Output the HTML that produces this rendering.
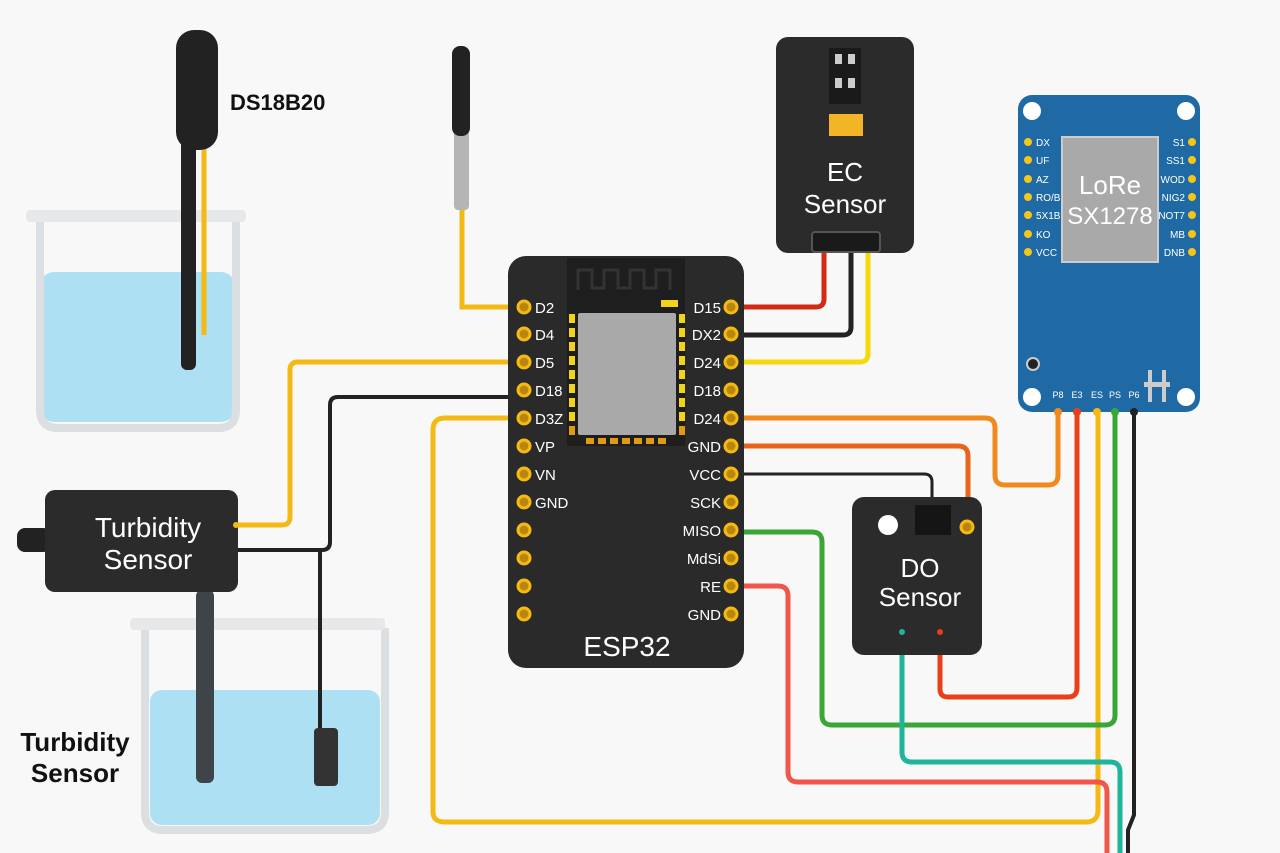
<!DOCTYPE html>
<html><head><meta charset="utf-8"><style>
html,body{margin:0;padding:0;background:#f8f8f8;}
svg{display:block;font-family:"Liberation Sans",sans-serif;}
</style></head><body>
<svg width="1280" height="853" viewBox="0 0 1280 853" xmlns="http://www.w3.org/2000/svg">
<rect width="1280" height="853" fill="#f8f8f8"/>

<!-- Beaker 1 -->
<rect x="40" y="272" width="195" height="150" rx="14" fill="#aee0f4"/>
<path d="M40 222 V410 Q40 428 58 428 H218 Q236 428 236 410 V222" fill="none" stroke="#dcdfe2" stroke-width="8"/>
<rect x="26" y="210" width="220" height="12" rx="4" fill="#e6e8ea"/>
<!-- DS18B20 probe -->
<rect x="181" y="140" width="15" height="230" rx="6" fill="#222"/>
<path d="M204 140 V335" stroke="#f5b914" stroke-width="5" fill="none"/>
<rect x="176" y="30" width="42" height="120" rx="18" fill="#222"/>
<text x="230" y="110" font-size="22" font-weight="bold" fill="#111">DS18B20</text>

<!-- second probe -->
<path d="M462 205 V307 H524" stroke="#f5b914" stroke-width="5" fill="none"/>
<rect x="454" y="130" width="15" height="80" rx="4" fill="#b5b5b5"/>
<rect x="452" y="46" width="18" height="90" rx="8" fill="#222"/>

<!-- Beaker 2 -->
<rect x="150" y="690" width="230" height="135" rx="12" fill="#aee0f4"/>
<path d="M145 628 V812 Q145 830 163 830 H367 Q385 830 385 812 V628" fill="none" stroke="#dcdfe2" stroke-width="8"/>
<rect x="130" y="618" width="255" height="12" rx="4" fill="#e6e8ea"/>
<rect x="196" y="590" width="18" height="193" rx="6" fill="#3f4448"/>
<path d="M320 550 V730" stroke="#222" stroke-width="4" fill="none"/>
<rect x="314" y="728" width="24" height="58" rx="4" fill="#333"/>

<!-- wires left -->
<path d="M524 362 H298 Q290 362 290 370 V517 Q290 525 282 525 H238" stroke="#f5b914" stroke-width="5" fill="none"/>
<path d="M524 397 H338 Q330 397 330 405 V542 Q330 550 322 550 H238" stroke="#222" stroke-width="4" fill="none"/>
<path d="M524 418 H445 Q433 418 433 430 V812 Q433 822 445 822 H1086 Q1098 822 1098 810 V412" stroke="#f5b914" stroke-width="5" fill="none"/>

<!-- Turbidity sensor box -->
<rect x="17" y="528" width="34" height="24" rx="8" fill="#222"/>
<rect x="45" y="490" width="193" height="102" rx="10" fill="#2b2b2b"/>
<text x="148" y="537" font-size="28" fill="#fff" text-anchor="middle">Turbidity</text>
<text x="148" y="569" font-size="28" fill="#fff" text-anchor="middle">Sensor</text>
<circle cx="236" cy="525" r="3" fill="#f5b914"/>
<text x="75" y="751" font-size="26" font-weight="bold" fill="#111" text-anchor="middle">Turbidity</text>
<text x="75" y="782" font-size="26" font-weight="bold" fill="#111" text-anchor="middle">Sensor</text>

<!-- right wires -->
<path d="M731 307 H816 Q824 307 824 299 V252" stroke="#d42a12" stroke-width="5" fill="none"/>
<path d="M731 335 H843 Q851 335 851 327 V252" stroke="#222" stroke-width="5" fill="none"/>
<path d="M731 362 H860 Q868 362 868 354 V252" stroke="#f5d90c" stroke-width="5" fill="none"/>
<path d="M731 418 H985 Q995 418 995 428 V475 Q995 485 1005 485 H1048 Q1058 485 1058 475 V412" stroke="#f08a1c" stroke-width="5" fill="none"/>
<path d="M731 446 H958 Q968 446 968 456 V528" stroke="#e8641a" stroke-width="5" fill="none"/>
<path d="M731 474 H924 Q932 474 932 482 V508" stroke="#222" stroke-width="3" fill="none"/>
<path d="M731 532 H812 Q822 532 822 542 V715 Q822 725 832 725 H1105 Q1115 725 1115 715 V412" stroke="#3aa635" stroke-width="5" fill="none"/>
<path d="M731 586 H778 Q788 586 788 596 V772 Q788 782 798 782 H1097 Q1107 782 1107 792 V853" stroke="#f0564a" stroke-width="5" fill="none"/>
<path d="M1077 412 V688 Q1077 697 1068 697 H948 Q940 697 940 689 V632" stroke="#e8401a" stroke-width="5" fill="none"/>
<path d="M902 632 V752 Q902 762 912 762 H1110 Q1120 762 1120 772 V853" stroke="#1eb59a" stroke-width="5" fill="none"/>
<path d="M1134 412 V815 L1128 830 V853" stroke="#222" stroke-width="4" fill="none"/>

<!-- ESP32 -->
<rect x="508" y="256" width="236" height="412" rx="18" fill="#2a2a2a"/>
<rect x="567" y="258" width="118" height="188" fill="#1e1e1e"/>
<path d="M578 290 V270 H592 V288 H604 V270 H618 V288 H630 V270 H644 V288 H656 V270 H670 V290" stroke="#333" stroke-width="3" fill="none"/>
<rect x="661" y="300" width="17" height="7" fill="#f2d21a"/>
<rect x="578" y="313" width="98" height="122" rx="2" fill="#a9a9a9"/>
<g fill="#f2d21a">
<rect x="569" y="314" width="6" height="9"/><rect x="569" y="328" width="6" height="9"/><rect x="569" y="342" width="6" height="9"/><rect x="569" y="356" width="6" height="9"/><rect x="569" y="370" width="6" height="9"/><rect x="569" y="384" width="6" height="9"/><rect x="569" y="398" width="6" height="9"/><rect x="569" y="412" width="6" height="9"/>
<rect x="679" y="314" width="6" height="9"/><rect x="679" y="328" width="6" height="9"/><rect x="679" y="342" width="6" height="9"/><rect x="679" y="356" width="6" height="9"/><rect x="679" y="370" width="6" height="9"/><rect x="679" y="384" width="6" height="9"/><rect x="679" y="398" width="6" height="9"/><rect x="679" y="412" width="6" height="9"/>
</g>
<g fill="#e09a12"><rect x="569" y="426" width="6" height="9"/><rect x="679" y="426" width="6" height="9"/>
<rect x="586" y="438" width="8" height="6"/><rect x="598" y="438" width="8" height="6"/><rect x="610" y="438" width="8" height="6"/><rect x="622" y="438" width="8" height="6"/><rect x="634" y="438" width="8" height="6"/><rect x="646" y="438" width="8" height="6"/><rect x="658" y="438" width="8" height="6"/></g>
<g fill="#b8860b" stroke="#f5b914" stroke-width="3">
<circle cx="524" cy="307" r="6"/><circle cx="524" cy="334" r="6"/><circle cx="524" cy="362" r="6"/><circle cx="524" cy="390" r="6"/><circle cx="524" cy="418" r="6"/><circle cx="524" cy="446" r="6"/><circle cx="524" cy="474" r="6"/><circle cx="524" cy="502" r="6"/><circle cx="524" cy="530" r="6"/><circle cx="524" cy="558" r="6"/><circle cx="524" cy="586" r="6"/><circle cx="524" cy="614" r="6"/>
<circle cx="731" cy="307" r="6"/><circle cx="731" cy="334" r="6"/><circle cx="731" cy="362" r="6"/><circle cx="731" cy="390" r="6"/><circle cx="731" cy="418" r="6"/><circle cx="731" cy="446" r="6"/><circle cx="731" cy="474" r="6"/><circle cx="731" cy="502" r="6"/><circle cx="731" cy="530" r="6"/><circle cx="731" cy="558" r="6"/><circle cx="731" cy="586" r="6"/><circle cx="731" cy="614" r="6"/>
</g>
<g fill="#fff" font-size="15">
<text x="535" y="313">D2</text><text x="535" y="340">D4</text><text x="535" y="368">D5</text><text x="535" y="396">D18</text><text x="535" y="424">D3Z</text><text x="535" y="452">VP</text><text x="535" y="480">VN</text><text x="535" y="508">GND</text>
</g>
<g fill="#fff" font-size="15" text-anchor="end">
<text x="721" y="313">D15</text><text x="721" y="340">DX2</text><text x="721" y="368">D24</text><text x="721" y="396">D18</text><text x="721" y="424">D24</text><text x="721" y="452">GND</text><text x="721" y="480">VCC</text><text x="721" y="508">SCK</text><text x="721" y="536">MISO</text><text x="721" y="564">MdSi</text><text x="721" y="592">RE</text><text x="721" y="620">GND</text>
</g>
<text x="627" y="656" font-size="28" fill="#fff" text-anchor="middle">ESP32</text>

<!-- EC sensor -->
<rect x="776" y="37" width="138" height="216" rx="12" fill="#2b2b2b"/>
<rect x="829" y="48" width="32" height="56" fill="#1a1a1a"/>
<rect x="835" y="54" width="7" height="10" fill="#ccc"/><rect x="848" y="54" width="7" height="10" fill="#ccc"/>
<rect x="835" y="78" width="7" height="10" fill="#ccc"/><rect x="848" y="78" width="7" height="10" fill="#ccc"/>
<rect x="829" y="114" width="34" height="22" fill="#f2b526"/>
<text x="845" y="181" font-size="26" fill="#fff" text-anchor="middle">EC</text>
<text x="845" y="213" font-size="26" fill="#fff" text-anchor="middle">Sensor</text>
<rect x="812" y="232" width="68" height="20" rx="3" fill="#1a1a1a" stroke="#555" stroke-width="2"/>

<!-- DO sensor -->
<rect x="852" y="497" width="130" height="158" rx="12" fill="#2b2b2b"/>
<circle cx="888" cy="525" r="10" fill="#fff"/>
<rect x="915" y="505" width="36" height="30" fill="#151515"/>
<circle cx="967" cy="527" r="6" fill="#b8860b" stroke="#f5b914" stroke-width="3"/>
<text x="920" y="577" font-size="26" fill="#fff" text-anchor="middle">DO</text>
<text x="920" y="606" font-size="26" fill="#fff" text-anchor="middle">Sensor</text>
<circle cx="902" cy="632" r="3" fill="#1eb59a"/><circle cx="940" cy="632" r="3" fill="#e8401a"/>

<!-- LoRa -->
<rect x="1018" y="95" width="182" height="317" rx="14" fill="#1f6aa5"/>
<circle cx="1032" cy="111" r="9" fill="#fff"/><circle cx="1186" cy="111" r="9" fill="#fff"/>
<circle cx="1032" cy="397" r="9" fill="#fff"/><circle cx="1186" cy="397" r="9" fill="#fff"/>
<circle cx="1033" cy="364" r="6" fill="#222" stroke="#ccc" stroke-width="2"/>
<rect x="1062" y="137" width="96" height="125" fill="#a9a9a9" stroke="#ccc" stroke-width="2"/>
<text x="1110" y="194" font-size="26" fill="#fff" text-anchor="middle">LoRe</text>
<text x="1110" y="224" font-size="24" fill="#fff" text-anchor="middle">SX1278</text>
<g fill="#f5c518">
<circle cx="1028" cy="142" r="4"/><circle cx="1028" cy="160" r="4"/><circle cx="1028" cy="179" r="4"/><circle cx="1028" cy="197" r="4"/><circle cx="1028" cy="215" r="4"/><circle cx="1028" cy="234" r="4"/><circle cx="1028" cy="252" r="4"/>
<circle cx="1192" cy="142" r="4"/><circle cx="1192" cy="160" r="4"/><circle cx="1192" cy="179" r="4"/><circle cx="1192" cy="197" r="4"/><circle cx="1192" cy="215" r="4"/><circle cx="1192" cy="234" r="4"/><circle cx="1192" cy="252" r="4"/>
</g>
<g fill="#fff" font-size="10">
<text x="1036" y="146">DX</text><text x="1036" y="164">UF</text><text x="1036" y="183">AZ</text><text x="1036" y="201">RO/B</text><text x="1036" y="219">5X1B</text><text x="1036" y="238">KO</text><text x="1036" y="256">VCC</text>
</g>
<g fill="#fff" font-size="10" text-anchor="end">
<text x="1185" y="146">S1</text><text x="1185" y="164">SS1</text><text x="1185" y="183">WOD</text><text x="1185" y="201">NIG2</text><text x="1185" y="219">NOT7</text><text x="1185" y="238">MB</text><text x="1185" y="256">DNB</text>
</g>
<g fill="#ccc"><rect x="1148" y="370" width="4" height="32"/><rect x="1162" y="370" width="4" height="32"/><rect x="1144" y="382" width="26" height="5"/></g>
<g fill="#fff" font-size="9" text-anchor="middle">
<text x="1058" y="398">P8</text><text x="1077" y="398">E3</text><text x="1097" y="398">ES</text><text x="1115" y="398">PS</text><text x="1134" y="398">P6</text>
</g>
<circle cx="1058" cy="412" r="4" fill="#f08a1c"/><circle cx="1077" cy="412" r="4" fill="#e8401a"/><circle cx="1097" cy="412" r="4" fill="#f5b914"/><circle cx="1115" cy="412" r="4" fill="#3aa635"/><circle cx="1134" cy="412" r="4" fill="#222"/>
</svg>
</body></html>
